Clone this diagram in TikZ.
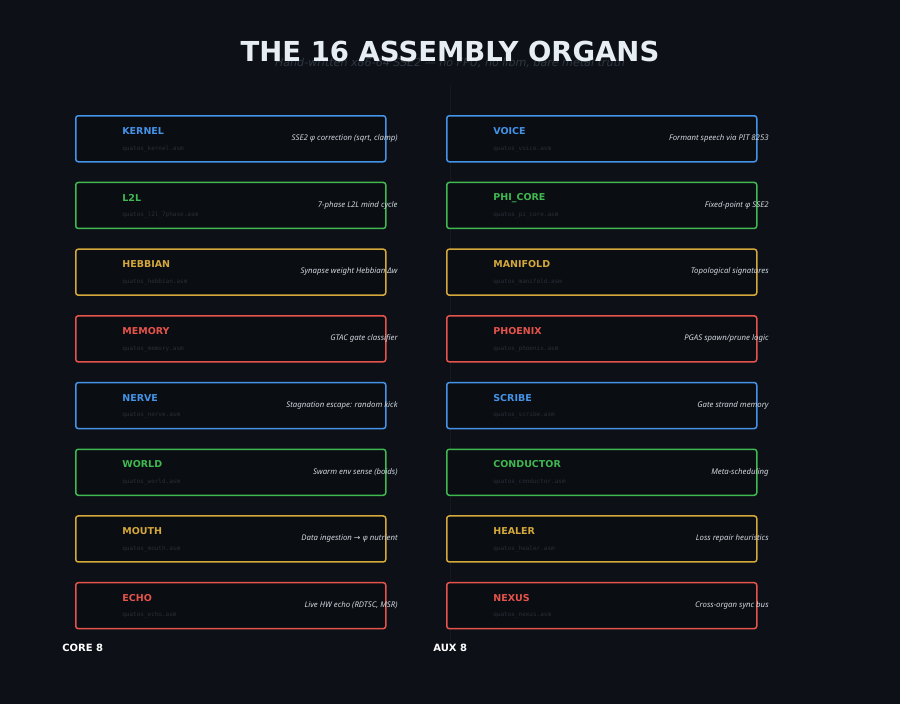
\documentclass[tikz,border=0pt]{standalone}
\usepackage{fontspec}
\setmainfont{DejaVu Sans}
\setmonofont{DejaVu Sans Mono}
\newfontfamily\descfont{Noto Sans}
\newfontfamily\arrowfont{DejaVu Sans}
\usetikzlibrary{positioning}

\definecolor{pagebg}{HTML}{0D1117}
\definecolor{boxbg}{HTML}{0A0D12}
\definecolor{organblue}{HTML}{4493E8}
\definecolor{organgreen}{HTML}{3FB950}
\definecolor{organyellow}{HTML}{D4A83A}
\definecolor{organred}{HTML}{E5534B}
\definecolor{titlewhite}{HTML}{E6EDF3}
\definecolor{subgray}{HTML}{2F3742}
\definecolor{filegray}{HTML}{2A3038}
\definecolor{desctext}{HTML}{D0D7DE}
\definecolor{divider}{HTML}{141920}

\tikzset{every picture/.style={line width=0.75pt}}

\begin{document}
\begin{tikzpicture}[x=1pt,y=-1pt,
  organ/.style={draw=#1, rounded corners=2.5pt, line width=1.5pt, fill=boxbg,
    minimum width=310pt, minimum height=46pt, inner sep=0pt, anchor=north west},
  organname/.style={anchor=west, text=#1, font=\bfseries\fontsize{9.5}{11}\selectfont, inner sep=0pt},
  organfile/.style={anchor=west, text=filegray, font=\ttfamily\fontsize{6}{7}\selectfont, inner sep=0pt},
  organdesc/.style={anchor=east, text=desctext, font=\descfont\itshape\fontsize{7.8}{9}\selectfont, inner sep=0pt},
  grouplabel/.style={anchor=west, text=white, font=\bfseries\fontsize{10}{12}\selectfont, inner sep=0pt}]

% background
\fill[pagebg] (0,0) rectangle (900,704);
\useasboundingbox (0,0) rectangle (900,704);

% divider
\draw[divider, line width=1pt] (450,85) -- (450,640);

% title
\node[text=subgray, font=\itshape\fontsize{11.1}{13}\selectfont] (subtitle) at (450,63)
  {Hand-written x86-64 SSE2 --- no FPU, no libm, bare metal truth};
\node[text=titlewhite, font=\bfseries\fontsize{27.5}{30}\selectfont] (title) at (450,51)
  {THE 16 ASSEMBLY ORGANS};

% core column
\foreach \nm/\fl/\ds/\cl [count=\i] in {
  KERNEL/kernel/{SSE2 φ correction (sqrt, clamp)}/organblue,
  L2L/l2l\_7phase/{7-phase L2L mind cycle}/organgreen,
  HEBBIAN/hebbian/{Synapse weight Hebbian Δw}/organyellow,
  MEMORY/memory/{GTAC gate classifier}/organred,
  NERVE/nerve/{Stagnation escape: random kick}/organblue,
  WORLD/world/{Swarm env sense (boids)}/organgreen,
  MOUTH/mouth/{Data ingestion {\arrowfont\itshape →} φ nutrient}/organyellow,
  ECHO/echo/{Live HW echo (RDTSC, MSR)}/organred}{
  \pgfmathsetmacro\rowtop{115+66.7*(\i-1)}
  \node[organ=\cl] (core\i) at (75,\rowtop) {};
  \node[organname=\cl] (coreName\i) at (122,\rowtop+16) {\nm};
  \node[organfile] (coreFile\i) at (122,\rowtop+33.5) {quatos\_\fl.asm};
  \node[organdesc] (coreDesc\i) at (398,\rowtop+23.5) {\ds};
}

% aux column
\foreach \nm/\fl/\ds/\cl [count=\i] in {
  VOICE/voice/{Formant speech via PIT 8253}/organblue,
  PHI\_CORE/pi\_core/{Fixed-point φ SSE2}/organgreen,
  MANIFOLD/manifold/{Topological signatures}/organyellow,
  PHOENIX/phoenix/{PGAS spawn/prune logic}/organred,
  SCRIBE/scribe/{Gate strand memory}/organblue,
  CONDUCTOR/conductor/{Meta-scheduling}/organgreen,
  HEALER/healer/{Loss repair heuristics}/organyellow,
  NEXUS/nexus/{Cross-organ sync bus}/organred}{
  \pgfmathsetmacro\rowtop{115+66.7*(\i-1)}
  \node[organ=\cl] (aux\i) at (446,\rowtop) {};
  \node[organname=\cl] (auxName\i) at (493,\rowtop+16) {\nm};
  \node[organfile] (auxFile\i) at (493,\rowtop+33.5) {quatos\_\fl.asm};
  \node[organdesc] (auxDesc\i) at (769,\rowtop+23.5) {\ds};
}

% group labels
\node[grouplabel] (coreLabel) at (62,648) {CORE 8};
\node[grouplabel] (auxLabel) at (433,648) {AUX 8};

\end{tikzpicture}
\end{document}
